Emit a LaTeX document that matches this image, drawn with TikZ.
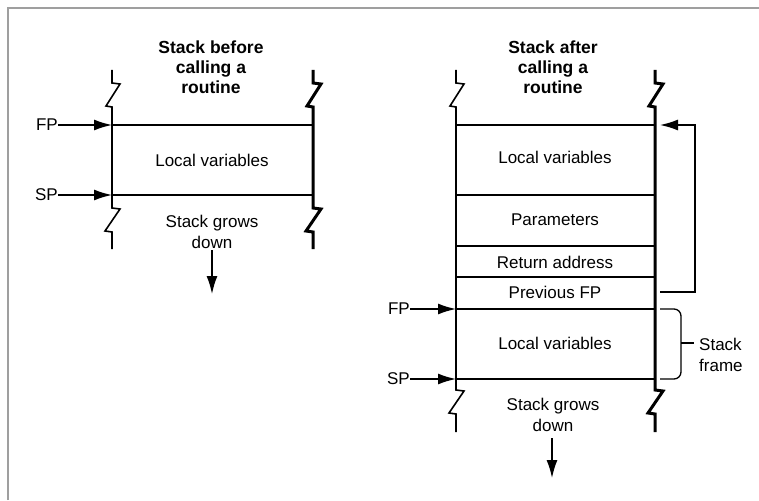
\documentclass[tikz,border=0pt]{standalone}
\usepackage{fontspec}
\setmainfont{Liberation Sans}
\usetikzlibrary{arrows.meta}
\newcommand\stackwall[5]{% x, ytop, ybot, yend, width
  \draw[line width=#5] (#1,#2)--(#1,#2+13)--(#1+8,#2+14)--(#1-6,#2+36)--(#1,#2+37)
    --(#1,#3)--(#1+8,#3+1)--(#1-7,#3+23)--(#1,#3+24)--(#1,#4);}
\begin{document}
\begin{tikzpicture}[x=1pt,y=-1pt,
  lbl/.style={font=\fontsize{17}{21}\selectfont, inner sep=0pt, align=center},
  ttl/.style={font=\fontsize{17.5}{20}\selectfont\bfseries, inner sep=0pt, align=center},
  hl/.style={line width=1.6pt},
  ptr/.style={line width=1.5pt, -{Latex[length=18pt,width=11pt]}},
  frame/.style={draw=gray!75, line width=1.6pt}]
\useasboundingbox (0,0) rectangle (759,500);
\fill[white] (0,0) rectangle (759,500);
\draw[frame] (8,500) -- (8,8) -- (759,8);

% ---------- left stack ----------
\node[ttl] (t1) at (211,67) {Stack before\\calling a\\routine};
\stackwall{112}{70}{208}{249}{1.6pt}
\stackwall{313}{70}{208}{249}{3pt}
\coordinate (lfpw) at (112,125);
\coordinate (lfpe) at (313,125);
\coordinate (lspw) at (112,195);
\coordinate (lspe) at (313,195);
\draw[hl] (lfpw) -- (lfpe);
\draw[hl] (lspw) -- (lspe);
\node[lbl] (lv1) at (212,160) {Local variables};
\node[lbl, anchor=east] (fp1) at (58,125) {FP};
\node[lbl, anchor=east] (sp1) at (58,195) {SP};
\draw[ptr] (fp1.east) -- (lfpw);
\draw[ptr] (sp1.east) -- (lspw);
\node[lbl] (g1) at (212,232) {Stack grows\\down};
\coordinate (g1end) at (212,294);
\draw[ptr] (212,250) -- (g1end);

% ---------- right stack ----------
\node[ttl] (t2) at (553,67) {Stack after\\calling a\\routine};
\stackwall{456}{70}{390}{432}{1.6pt}
\stackwall{655}{70}{390}{432}{3pt}
\foreach \y/\n in {125/a,195/b,246/c,277/d,309/e,379/f}{
  \coordinate (rw\n) at (456,\y);
  \coordinate (re\n) at (655,\y);
  \draw[hl] (rw\n) -- (re\n);
}
\node[lbl] (lv2) at (555,157) {Local variables};
\node[lbl] (par) at (555,220) {Parameters};
\node[lbl] (ret) at (555,262) {Return address};
\node[lbl] (pfp) at (555,292) {Previous FP};
\node[lbl] (lv3) at (555,343) {Local variables};
\node[lbl, anchor=east] (fp2) at (410,309) {FP};
\node[lbl, anchor=east] (sp2) at (410,379) {SP};
\draw[ptr] (fp2.east) -- (rwe);
\draw[ptr] (sp2.east) -- (rwf);
\node[lbl] (g2) at (553,415) {Stack grows\\down};
\coordinate (g2end) at (552,478);
\draw[ptr] (552,438) -- (g2end);

% return pointer
\coordinate (rs) at (660,292);
\coordinate (rt) at (660,125);
\draw[ptr] (rs) -- (695,292) -- (695,125) -- (rt);

% brace
\draw[line width=1.3pt, rounded corners=7pt] (660,309) -- (681,309) -- (681,379) -- (660,379);
\coordinate (bm) at (681,343);
\draw[line width=1.3pt] (bm) -- (694,343);
\node[lbl, anchor=west, align=left] (sf) at (699,355) {Stack\\frame};
\end{tikzpicture}
\end{document}
